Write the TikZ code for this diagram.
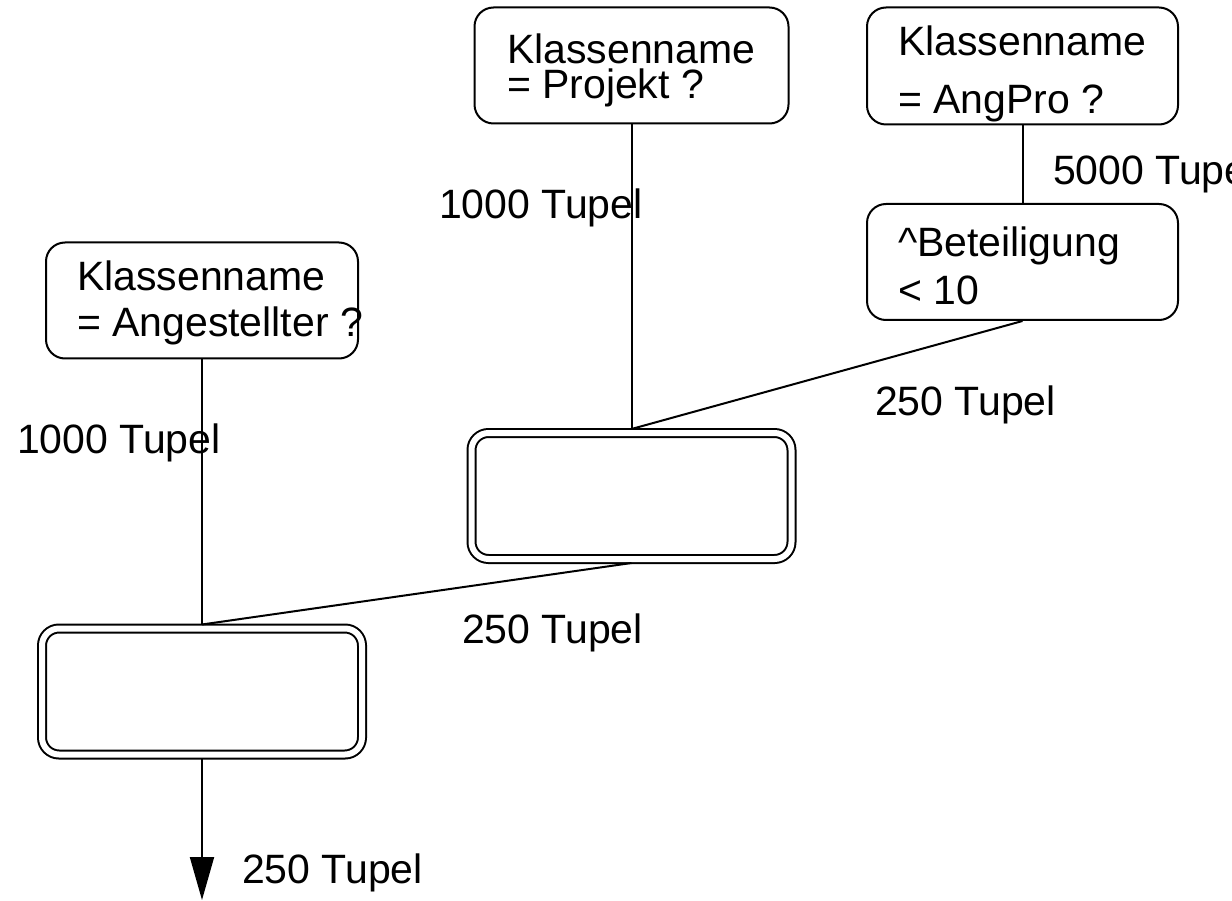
\documentclass[tikz,border=0pt]{standalone}
\usepackage{fontspec}
\setmainfont{Liberation Sans}
\usetikzlibrary{arrows.meta}
\begin{document}
\begin{tikzpicture}[x=1pt, y=-1pt,
  every node/.style={font=\fontsize{41pt}{49pt}\selectfont},
  selbox/.style={draw, line width=2pt, rounded corners=19pt, inner sep=0pt},
  joinbox/.style={draw, line width=2pt, double, double distance=6pt,
    rounded corners=17pt, inner sep=0pt, outer sep=4pt,
    minimum width=320pt, minimum height=126pt},
  txt/.style={anchor=base west, inner sep=0pt, outer sep=0pt},
  edge/.style={line width=2pt}
]
\useasboundingbox (0,0) rectangle (1232,901);
\clip (0,0) rectangle (1232,901);

% selection boxes
\node[selbox, minimum width=314pt, minimum height=116pt] (proj)   at (631.5,65.5) {};
\node[selbox, minimum width=311pt, minimum height=117pt] (angpro) at (1022.5,66) {};
\node[selbox, minimum width=311pt, minimum height=116pt] (bet)    at (1022.5,262) {};
\node[selbox, minimum width=312pt, minimum height=116pt] (anges)  at (202,300.5) {};

% join boxes
\node[joinbox] (join1) at (631.5,496) {};
\node[joinbox] (join2) at (202,691.5) {};

% box texts
\node[txt] (proj1) at (507,64) {Klassenname};
\node[txt] (proj2) at (507,99) {= Projekt ?};
\node[txt] (angpro1) at (898,56) {Klassenname};
\node[txt] (angpro2) at (898,114) {= AngPro ?};
\node[txt] (bet1) at (898,257) {\textasciicircum Beteiligung};
\node[txt] (bet2) at (898,305) {< 10};
\node[txt] (anges1) at (77,291) {Klassenname};
\node[txt] (anges2) at (77,337) {= Angestellter ?};

% connectors
\coordinate (out) at (202,900);
\draw[edge] (proj.south) -- (join1.north);
\draw[edge] (angpro.south) -- (bet.north);
\draw[edge] (bet.south) -- (join1.north);
\draw[edge] (anges.south) -- (join2.north);
\draw[edge] (join1.south) -- (join2.north);
\draw[edge, -{Triangle[width=24pt, length=43pt]}] (join2.south) -- (out);

% tuple counts
\node[txt] (t1) at (439,219) {1000 Tupel};
\node[txt] (t2) at (1053,185) {5000 Tupel};
\node[txt] (t3) at (875,415) {250 Tupel};
\node[txt] (t4) at (17,453) {1000 Tupel};
\node[txt] (t5) at (462,643) {250 Tupel};
\node[txt] (t6) at (242,883) {250 Tupel};
\end{tikzpicture}
\end{document}
